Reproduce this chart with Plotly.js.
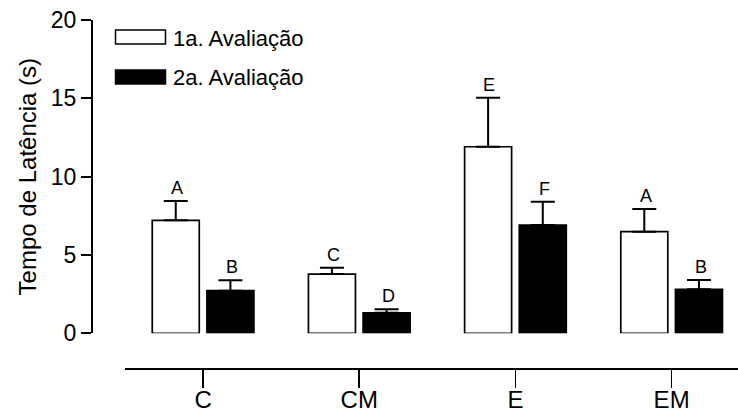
<!DOCTYPE html>
<html>
<head>
<meta charset="utf-8">
<script src="https://cdn.plot.ly/plotly-3.0.1.min.js"></script>
<style>
  html, body { margin: 0; padding: 0; background: #fff; }
  #chart { width: 738px; height: 414px; }
</style>
</head>
<body>
<div id="chart"></div>
<script>
// ---- data ----
const categories = ['C', 'CM', 'E', 'EM'];
const seriesNames = ['1a. Avaliação', '2a. Avaliação'];
const firstMeans = [7.21, 3.78, 11.91, 6.49];
const firstErrors = [1.23, 0.41, 3.13, 1.44];
const secondMeans = [2.72, 1.31, 6.91, 2.81];
const secondErrors = [0.66, 0.22, 1.49, 0.59];
const firstLetters = ['A', 'C', 'E', 'A'];
const secondLetters = ['B', 'D', 'F', 'B'];
const yTickVals = [0, 5, 10, 15, 20];
const yTitle = 'Tempo de Latência (s)';

// ---- layout constants ----
const W = 738, H = 414;
const ml = 91, mr = 0, mt = 20, mb = 46;
const plotW = W - ml - mr, plotH = H - mt - mb;
const px2x = p => (p - ml) / plotW;
const py2y = p => 1 - (p - mt) / plotH;
const FONT = 'Liberation Sans, Arial, Helvetica, sans-serif';

const zeros = categories.map(() => 0);

const traces = [
  {
    type: 'bar', name: seriesNames[0], x: categories, y: firstMeans,
    marker: { color: '#ffffff', line: { color: '#000', width: 1.7 } },
    error_y: { type: 'data', symmetric: false, array: firstErrors, arrayminus: zeros,
               color: '#000', thickness: 2, width: 12 },
    showlegend: false, hoverinfo: 'skip'
  },
  {
    type: 'bar', name: seriesNames[1], x: categories, y: secondMeans,
    marker: { color: '#000000', line: { color: '#000', width: 1.7 } },
    error_y: { type: 'data', symmetric: false, array: secondErrors, arrayminus: zeros,
               color: '#000', thickness: 2, width: 12 },
    showlegend: false, hoverinfo: 'skip'
  }
];

const annotations = [];
categories.forEach((c, i) => {
  annotations.push({ x: c, y: firstMeans[i] + firstErrors[i], xref: 'x', yref: 'y',
    text: firstLetters[i], showarrow: false, xshift: -26, yshift: 1, yanchor: 'bottom',
    font: { family: FONT, size: 18, color: '#000' } });
  annotations.push({ x: c, y: secondMeans[i] + secondErrors[i], xref: 'x', yref: 'y',
    text: secondLetters[i], showarrow: false, xshift: 29, yshift: 1, yanchor: 'bottom',
    font: { family: FONT, size: 18, color: '#000' } });
});

// custom legend (wide swatches)
const legendRows = [
  { top: 30, bottom: 44, fill: '#ffffff', textY: 38.5 },
  { top: 70, bottom: 84, fill: '#000000', textY: 77.5 }
];
const shapes = [];
legendRows.forEach((r, i) => {
  shapes.push({ type: 'rect', xref: 'paper', yref: 'paper',
    x0: px2x(115.5), x1: px2x(165.5), y0: py2y(r.bottom), y1: py2y(r.top),
    fillcolor: r.fill, line: { color: '#000', width: 1.5 } });
  annotations.push({ xref: 'paper', yref: 'paper', x: px2x(171), y: py2y(r.textY),
    xanchor: 'left', yanchor: 'middle', text: seriesNames[i], showarrow: false,
    font: { family: FONT, size: 22, color: '#000' } });
});

const layout = {
  width: W, height: H,
  margin: { l: ml, r: mr, t: mt, b: mb, pad: 0 },
  paper_bgcolor: '#fff', plot_bgcolor: '#fff',
  font: { family: FONT, color: '#000' },
  barmode: 'group', bargap: 0.30, bargroupgap: 0.14,
  showlegend: false,
  xaxis: {
    type: 'category', domain: [px2x(125), 1], anchor: 'free', position: 0,
    range: [-0.5, 3.425], showgrid: false, zeroline: false,
    showline: true, linecolor: '#000', linewidth: 1.7,
    ticks: 'outside', ticklen: 18, tickwidth: 1.7, tickcolor: '#000',
    ticklabelstandoff: -9,
    tickfont: { family: FONT, size: 24, color: '#000' }
  },
  yaxis: {
    domain: [py2y(333.3), 1], anchor: 'free', position: 0,
    range: [0, 20], tickvals: yTickVals, ticktext: yTickVals.map(String),
    showgrid: false, zeroline: false,
    showline: true, linecolor: '#000', linewidth: 1.7,
    ticks: 'outside', ticklen: 10, tickwidth: 1.7, tickcolor: '#000',
    tickfont: { family: FONT, size: 23, color: '#000' },
    title: { text: yTitle, font: { family: FONT, size: 24, color: '#000' }, standoff: 6 }
  },
  shapes: shapes,
  annotations: annotations
};

Plotly.newPlot('chart', traces, layout, { staticPlot: true, displayModeBar: false });
</script>
</body>
</html>
